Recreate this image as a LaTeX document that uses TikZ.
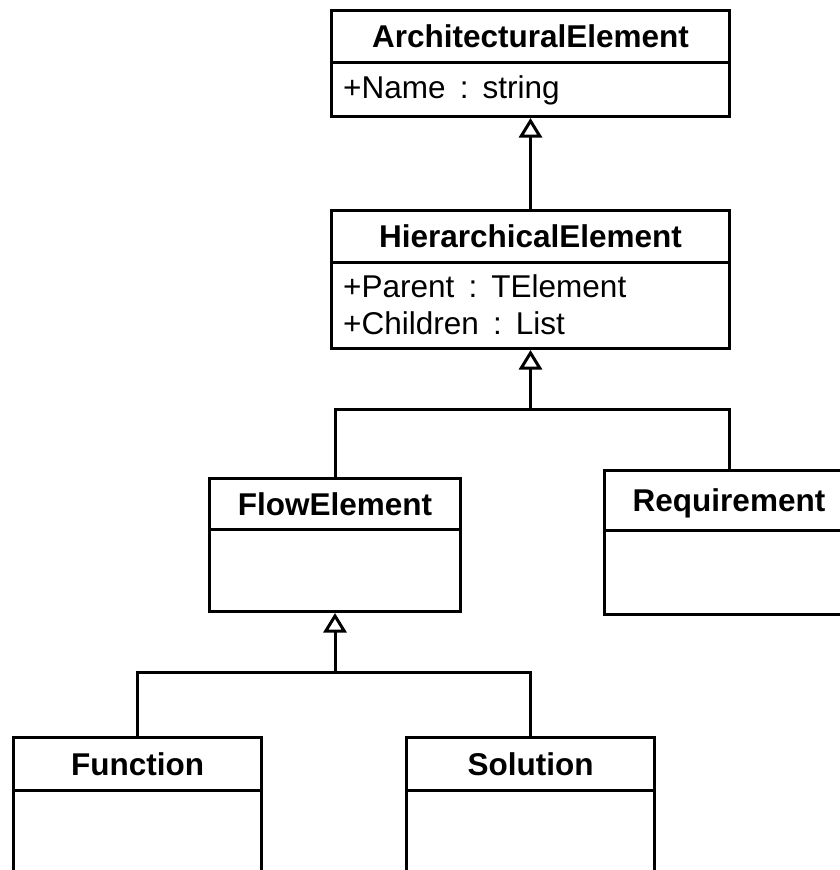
\documentclass[tikz,border=0pt]{standalone}
\usepackage{fontspec}
\setmainfont{Liberation Sans}
\usetikzlibrary{arrows.meta}

\tikzset{
  classhead/.style={draw, line width=3pt, rectangle, inner sep=0pt,
    anchor=north west, text height=22pt, text depth=0pt,
    font=\fontsize{31.5}{37}\selectfont\bfseries},
  classbody/.style={draw, line width=3pt, rectangle, inner sep=0pt,
    anchor=north west},
  attr/.style={anchor=base west, inner sep=0pt,
    font=\fontsize{31.5}{37}\selectfont},
  link/.style={line width=3pt},
  gen/.style={line width=3pt, -{Triangle[open, length=19.5pt, width=23pt]}}
}
\newcommand{\attrsep}{\hspace{0.45em}:\hspace{0.45em}}

\begin{document}
\begin{tikzpicture}[x=1pt, y=-1pt]
  \useasboundingbox (0,0) rectangle (840,870);
  \clip (0,0) rectangle (840,870);

  % ArchitecturalElement
  \node[classhead, minimum width=398pt, minimum height=52pt] (aeh) at (330,9) {ArchitecturalElement};
  \node[classbody, minimum width=398pt, minimum height=54pt] (aeb) at (330,61) {};
  \node[attr] (aea) at (343,98) {+Name\attrsep string};

  % HierarchicalElement
  \node[classhead, minimum width=398pt, minimum height=52pt] (heh) at (330,209) {HierarchicalElement};
  \node[classbody, minimum width=398pt, minimum height=86pt] (heb) at (330,261) {};
  \node[attr] (hea1) at (343,297) {+Parent\attrsep TElement};
  \node[attr] (hea2) at (343,334) {+Children\attrsep List};

  % FlowElement
  \node[classhead, minimum width=251pt, minimum height=51pt] (feh) at (208,477) {FlowElement};
  \node[classbody, minimum width=251pt, minimum height=82pt] (feb) at (208,528) {};

  % Requirement
  \node[classhead, minimum width=249pt, minimum height=60pt] (rqh) at (603,469) {Requirement};
  \node[classbody, minimum width=249pt, minimum height=84pt] (rqb) at (603,529) {};

  % Function
  \node[classhead, minimum width=248pt, minimum height=53pt] (fnh) at (12,736) {Function};
  \node[classbody, minimum width=248pt, minimum height=160pt] (fnb) at (12,789) {};

  % Solution
  \node[classhead, minimum width=248pt, minimum height=53pt] (soh) at (405,736) {Solution};
  \node[classbody, minimum width=248pt, minimum height=160pt] (sob) at (405,789) {};

  % Generalisation links
  \draw[gen] (heh.north) -- (aeb.south);

  \coordinate (j1) at (heb.south |- 0,409);
  \draw[gen] (feh.north) |- (j1) -- (heb.south);
  \draw[link] (rqh.north) |- (j1);

  \coordinate (j2) at (feb.south |- 0,672);
  \draw[gen] (fnh.north) |- (j2) -- (feb.south);
  \draw[link] (soh.north) |- (j2);
\end{tikzpicture}
\end{document}
